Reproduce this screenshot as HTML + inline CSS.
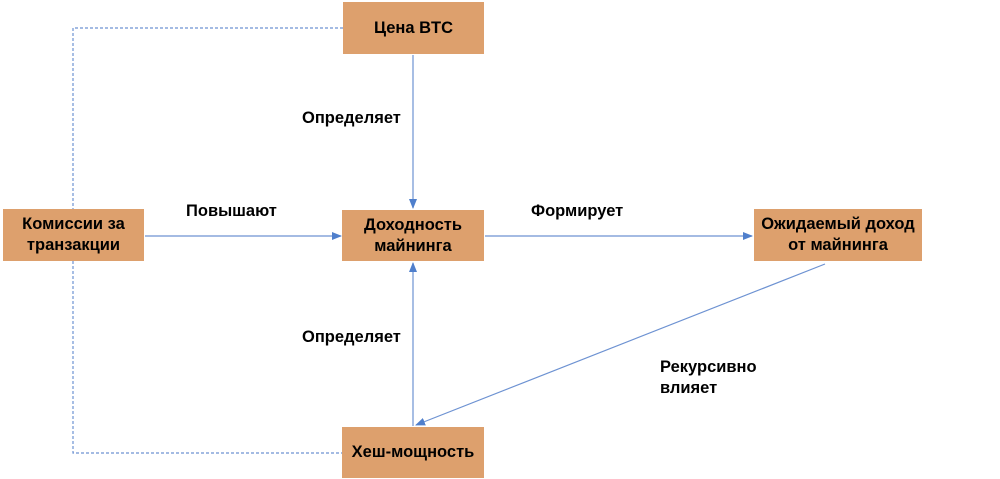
<!DOCTYPE html>
<html><head><meta charset="utf-8"><style>
body{margin:0;width:1000px;height:479px;background:#fff;position:relative;overflow:hidden;font-family:"Liberation Sans",Arial,sans-serif;}
.b{position:absolute;background:#dda06d;display:flex;align-items:center;justify-content:center;text-align:center;font-weight:bold;font-size:16.5px;line-height:21px;color:#000;}
.l{position:absolute;font-weight:bold;font-size:16.5px;line-height:21px;color:#000;}
svg{position:absolute;left:0;top:0}
</style></head><body>
<svg width="1000" height="479">
<defs><marker id="a" markerWidth="10" markerHeight="10" refX="9" refY="5" orient="auto" markerUnits="userSpaceOnUse"><path d="M0,1 L10,5 L0,9 z" fill="#4f7fcc"/></marker></defs>
<g stroke="#6d92d2" stroke-width="1.2" fill="none">
<path d="M343,28 H73 V209 M73,261 V453 H343" stroke-dasharray="3,2"/>
<line x1="413" y1="55" x2="413" y2="208" marker-end="url(#a)"/>
<line x1="145" y1="236" x2="341" y2="236" marker-end="url(#a)"/>
<line x1="485" y1="236" x2="752" y2="236" marker-end="url(#a)"/>
<line x1="413" y1="426" x2="413" y2="263" marker-end="url(#a)"/>
<line x1="825" y1="264" x2="416" y2="425" marker-end="url(#a)"/>
</g></svg>
<div class="b" style="left:343px;top:2px;width:141px;height:52px">Цена BTC</div>
<div class="b" style="left:3px;top:209px;width:141px;height:52px">Комиссии за<br>транзакции</div>
<div class="b" style="left:342px;top:210px;width:142px;height:51px">Доходность<br>майнинга</div>
<div class="b" style="left:754px;top:209px;width:168px;height:52px">Ожидаемый доход<br>от майнинга</div>
<div class="b" style="left:342px;top:427px;width:142px;height:51px">Хеш-мощность</div>
<div class="l" style="left:302px;top:108px">Определяет</div>
<div class="l" style="left:186px;top:201px">Повышают</div>
<div class="l" style="left:531px;top:201px">Формирует</div>
<div class="l" style="left:302px;top:327px">Определяет</div>
<div class="l" style="left:660px;top:357px">Рекурсивно<br>влияет</div>
</body></html>
